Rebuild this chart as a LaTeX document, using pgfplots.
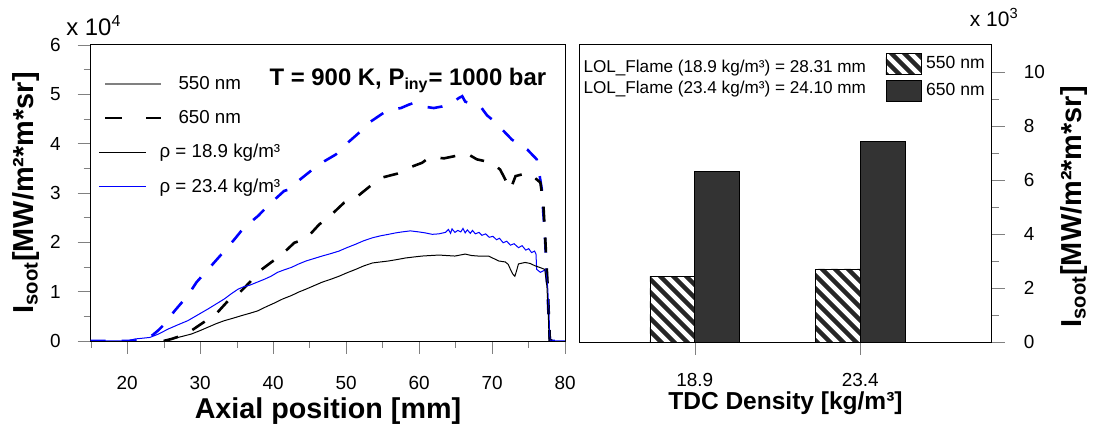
\documentclass[border=0pt]{standalone}
\usepackage{fontspec}
\setmainfont{Liberation Sans}
\usepackage{pgfplots}
\pgfplotsset{compat=1.18}
\usetikzlibrary{patterns.meta}

\tikzdeclarepattern{
  name=thickstripes,
  type=uncolored,
  bounding box={(0pt,0pt) and (6.5pt,6.5pt)},
  tile size={(6.5pt,6.5pt)},
  code={
    \draw[line width=2.2pt] (-1pt,7.5pt) -- (7.5pt,-1pt);
    \draw[line width=2.2pt] (-1pt,1pt) -- (1pt,-1pt);
    \draw[line width=2.2pt] (5.5pt,7.5pt) -- (7.5pt,5.5pt);
  }
}

\pgfplotsset{
  soot/.style={
    scale only axis,
    tick align=outside,
    major tick length=6.5pt,
    minor tick length=3.5pt,
    /pgf/number format/assume math mode=true,
    tick label style={font=\fontsize{9.5}{11}\selectfont},
  },
  longleg/.style={legend image code/.code={\draw[##1] (3pt,0pt) -- (31pt,0pt); \path (37pt,0pt);}},
  shortleg/.style={legend image code/.code={\draw[##1] (0pt,0pt) -- (23.5pt,0pt); \path (37pt,0pt);}},
  boxleg/.style={legend image code/.code={\draw[##1] (0pt,-5.2pt) rectangle (18pt,5.2pt);}},
}

\begin{document}
\begin{tikzpicture}
\path (0,0) rectangle (547pt,-216pt);

% left panel: axial profiles
\begin{axis}[soot,
  at={(45.5pt,-171pt)}, anchor=south west,
  width=238pt, height=148.5pt,
  xmin=15, xmax=80, ymin=0, ymax=6,
  xtick={20,30,...,80}, minor xtick={15,25,...,75},
  ytick={0,1,...,6}, minor ytick={0.5,1.5,...,5.5},
  xtick pos=left, ytick pos=left,
  xticklabel style={yshift=-7.5pt},
  yticklabel style={xshift=-5pt},
  every axis x label/.style={at={(axis description cs:0.5,-0.263)},anchor=base},
  every axis y label/.style={at={(axis description cs:-0.121,0.5)},rotate=90,anchor=base},
  xlabel={\fontsize{14.4}{16}\selectfont\bfseries Axial position [mm]},
  ylabel={\fontsize{14.5}{16}\selectfont\bfseries I\textsubscript{soot}[MW/m²*m*sr]},
  legend style={at={(axis description cs:0.004,0.923)}, anchor=north west,
    draw=none, fill=none, font=\fontsize{9.4}{11}\selectfont, row sep=5pt},
  legend cell align=left,
]
\addlegendimage{gray, line width=0.6pt, longleg}
\addlegendentry{550 nm}
\addlegendimage{black, line width=1.3pt, dash pattern=on 8.4pt off 12pt, longleg}
\addlegendentry{650 nm}
\addlegendimage{black, line width=0.5pt, shortleg}
\addlegendentry{\hspace*{-9.5pt}ρ = 18.9 kg/m³}
\addlegendimage{blue, line width=0.5pt, shortleg}
\addlegendentry{\hspace*{-9.5pt}ρ = 23.4 kg/m³}

% 650 nm, 23.4 kg/m3
\addplot[blue, line width=1.3pt, dash pattern=on 7.5pt off 8pt, forget plot] coordinates {
(15,0) (20,0) (21.5,0.01) (22.5,0.04) (23.5,0.12) (24.3,0.22) (25.1,0.34) (26.5,0.61)
(28.3,0.92) (29.5,1.19) (31.5,1.52) (32.7,1.72) (34.7,2.06) (35.9,2.28) (37.9,2.53)
(39.5,2.77) (41.5,3.04) (42.2,3.07) (43.5,3.25) (45.1,3.44) (46.3,3.58) (48.6,3.78)
(49.7,3.95) (52.0,4.25) (53.1,4.42) (55.4,4.65) (56.8,4.70) (57.5,4.72) (58.6,4.79)
(59.2,4.82) (59.7,4.79) (61.0,4.74) (62.0,4.72) (63.1,4.75) (64.5,4.82) (65.4,4.92)
(65.9,4.96) (66.3,4.85) (67.3,4.80) (68.4,4.75) (69.3,4.57) (70.3,4.45) (71.4,4.28)
(72.7,4.08) (73.7,3.98) (74.8,3.88) (76.1,3.68) (76.5,3.35) (76.8,3.07) (77.0,2.6)
(77.2,2.2) (77.5,1.25) (77.7,0.58) (77.9,0.02) (78.2,0) (80,0)};
% 650 nm, 18.9 kg/m3
\addplot[black, line width=1.3pt, dash pattern=on 7.5pt off 8pt, forget plot] coordinates {
(25,0) (26.1,0.04) (28.1,0.14) (30.6,0.39) (32.2,0.55) (33.8,0.81) (35.2,0.95)
(36.8,1.19) (37.9,1.39) (39.7,1.59) (41.1,1.74) (42.9,1.99) (44.5,2.07) (46.3,2.36)
(47.7,2.52) (49.7,2.80) (51.3,2.90) (53.3,3.14) (54.9,3.31) (57.0,3.39) (58.6,3.51)
(60.4,3.61) (61.5,3.73) (63.4,3.70) (64.7,3.74) (66.5,3.80) (67.9,3.68) (70.0,3.61)
(71.1,3.47) (72.5,3.07) (73.2,3.34) (75.0,3.41) (76.6,3.21) (77.0,2.80) (77.3,1.99)
(77.6,1.12) (77.9,0.02) (78.2,0)};
% 550 nm, 23.4 kg/m3
\addplot[blue, line width=0.5pt, forget plot] coordinates {
(15,0) (20,0) (21.1,0.04) (23.1,0.07) (24.3,0.14) (25.6,0.24) (27,0.33) (28.3,0.41)
(29.7,0.53) (31.1,0.65) (32.2,0.75) (33.3,0.85) (34.3,0.96) (35.2,1.05) (36.0,1.10)
(36.8,1.13) (37.8,1.19) (38.8,1.25) (39.7,1.31) (40.6,1.39) (41.5,1.44) (42.5,1.49)
(43.5,1.56) (44.5,1.62) (45.6,1.67) (46.7,1.72) (47.9,1.77) (49.0,1.82) (50.1,1.89)
(51.3,1.96) (52.4,2.03) (53.6,2.09) (54.7,2.13) (55.8,2.16) (56.8,2.19) (57.7,2.21)
(58.8,2.23) (59.9,2.21) (60.8,2.19) (61.8,2.16) (62.7,2.17) (63.6,2.20) (64.0,2.26)
(64.3,2.18) (64.5,2.27) (64.9,2.20) (65.3,2.24) (65.7,2.21) (66.0,2.28) (66.3,2.19)
(66.6,2.25) (67.0,2.18) (67.3,2.24) (67.7,2.17) (68.2,2.20) (68.6,2.14) (69.1,2.17)
(69.6,2.10) (70.1,2.12) (70.6,2.05) (71.0,2.08) (71.5,1.99) (72.0,2.02) (72.5,1.94)
(73.0,1.97) (73.6,1.89) (74.1,1.93) (74.6,1.84) (75.0,1.87) (75.4,1.79) (75.8,1.82)
(76.0,1.76) (76.1,1.45) (76.6,1.39) (77.0,1.42) (77.3,1.45) (77.6,1.1) (77.8,0.5)
(77.9,0) (80,0)};
% 550 nm, 18.9 kg/m3
\addplot[black, line width=0.5pt, forget plot] coordinates {
(25,0) (26.1,0.04) (27.5,0.09) (28.8,0.14) (30.0,0.21) (31.1,0.28) (32.2,0.35)
(33.3,0.41) (34.5,0.46) (35.6,0.51) (36.8,0.56) (37.9,0.61) (39.0,0.69) (40.2,0.77)
(41.3,0.85) (42.5,0.92) (43.5,0.99) (44.5,1.05) (45.6,1.12) (46.7,1.19) (47.9,1.25)
(49.0,1.31) (50.1,1.38) (51.3,1.45) (52.4,1.52) (53.6,1.58) (54.7,1.60) (55.8,1.62)
(57.0,1.65) (58.1,1.68) (59.2,1.70) (60.4,1.72) (61.5,1.73) (62.7,1.74) (63.8,1.73)
(64.9,1.72) (66.3,1.76) (67.2,1.73) (68.1,1.72) (69.5,1.72) (70.2,1.67) (70.9,1.62)
(71.8,1.60) (72.2,1.55) (72.5,1.45) (72.8,1.36) (73.1,1.31) (73.3,1.40) (73.6,1.56)
(74.5,1.59) (75.2,1.57) (75.9,1.52) (76.5,1.49) (77.2,1.45) (77.5,1.1) (77.7,0.5)
(77.8,0)};
\end{axis}

% right panel: bars
\begin{axis}[soot,
  at={(290.5pt,-171.5pt)}, anchor=south west,
  width=207pt, height=149pt,
  ybar, bar width=22.5pt,
  xmin=-0.699, xmax=1.795, ymin=0, ymax=11,
  xtick={0,1}, xticklabels={18.9,23.4},
  ytick={0,2,...,10}, minor ytick={1,3,...,9},
  xtick pos=left, ytick pos=right, yticklabel pos=right,
  xticklabel style={yshift=-5.5pt},
  yticklabel style={xshift=6pt},
  every axis x label/.style={at={(axis description cs:0.5,-0.228)},anchor=base},
  every axis y label/.style={at={(axis description cs:1.217,0.455)},rotate=90,anchor=base},
  xlabel={\fontsize{12.3}{14}\selectfont\bfseries TDC Density [kg/m³]},
  ylabel={\fontsize{14.5}{16}\selectfont\bfseries I\textsubscript{soot}[MW/m²*m*sr]},
  legend style={at={(axis description cs:0.727,0.99)}, anchor=north west,
    draw=none, fill=none, font=\fontsize{8.8}{10}\selectfont, row sep=2pt},
  legend cell align=left,
]
\addplot[draw=black, pattern=thickstripes, pattern color=black!85, bar shift=-11.25pt, boxleg]
  coordinates {(0,2.43) (1,2.70)};
\addlegendentry{550 nm}
\addplot[draw=black, fill=black!80, bar shift=11.25pt, boxleg]
  coordinates {(0,6.32) (1,7.43)};
\addlegendentry{650 nm}
\end{axis}

\node[anchor=base west, font=\fontsize{12}{14}\selectfont] at (29.75pt,-17.6pt) {x 10\textsuperscript{4}};
\node[anchor=base west, font=\fontsize{10.5}{12}\selectfont] at (483pt,-13.5pt) {x 10\textsuperscript{3}};
\node[anchor=base west, font=\fontsize{12}{14}\selectfont\bfseries, inner sep=0pt] at (135pt,-43pt) {T = 900 K, P\textsubscript{iny}= 1000 bar};
\node[anchor=base west, font=\fontsize{8.6}{10}\selectfont, inner sep=0pt] at (292.5pt,-36.5pt) {LOL\_Flame (18.9 kg/m³) = 28.31 mm};
\node[anchor=base west, font=\fontsize{8.6}{10}\selectfont, inner sep=0pt] at (292.5pt,-47pt) {LOL\_Flame (23.4 kg/m³) = 24.10 mm};
\end{tikzpicture}
\end{document}
